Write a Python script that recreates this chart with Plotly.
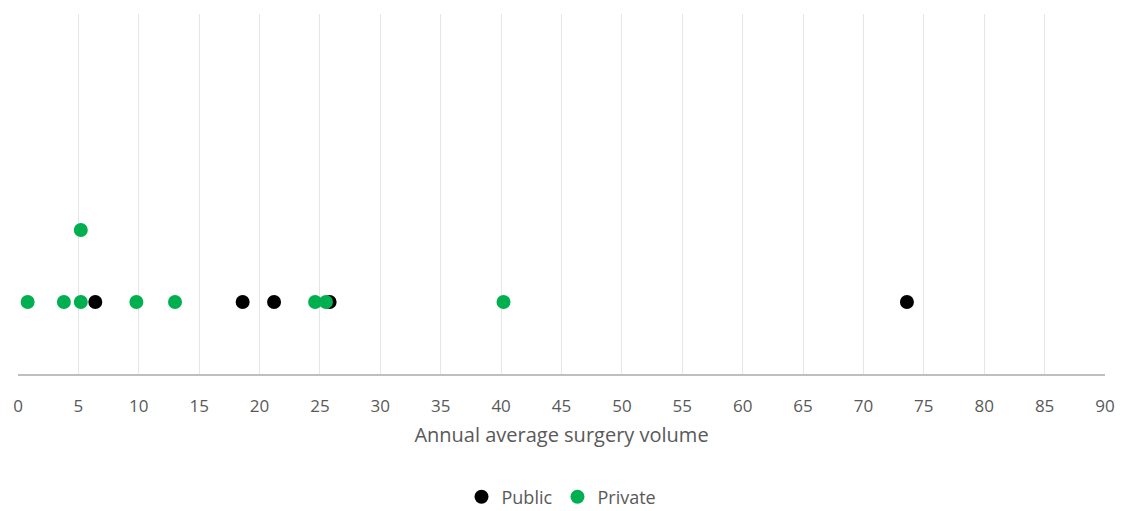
import plotly.graph_objects as go

public_x = [6.4, 18.6, 21.2, 25.8, 73.6]
public_y = [1, 1, 1, 1, 1]
private_x = [0.8, 3.8, 5.2, 5.2, 9.8, 13.0, 24.6, 25.5, 40.2]
private_y = [1, 1, 1, 2, 1, 1, 1, 1, 1]
x_ticks = list(range(0, 95, 5))

font = "Open Sans"
fig = go.Figure()
fig.add_trace(go.Scatter(x=public_x, y=public_y, mode="markers", name="Public",
                         marker=dict(color="#000000", size=14)))
fig.add_trace(go.Scatter(x=private_x, y=private_y, mode="markers", name="Private",
                         marker=dict(color="#00b050", size=14)))

# page body has an 8px margin, so the figure is sized to the visible area
fig.update_layout(
    width=1118, height=503,
    margin=dict(l=10, r=21, t=6, b=137, autoexpand=False),
    plot_bgcolor="white", paper_bgcolor="white",
    font=dict(family=font, size=15, color="#595959"),
    showlegend=True,
    legend=dict(orientation="h", x=0.5, xanchor="center", y=-0.342, yanchor="middle",
                font=dict(size=18, color="#595959"), itemwidth=30, tracegroupgap=0),
    xaxis=dict(range=[0, 90], tickvals=x_ticks, ticktext=[str(v) for v in x_ticks],
               automargin=False,
               showgrid=True, gridcolor="#e6e6e6", gridwidth=1,
               showline=True, linecolor="#bfbfbf", linewidth=1.5,
               zeroline=False, ticks="", ticklen=0, ticklabelstandoff=16,
               tickfont=dict(size=17, color="#595959"),
               title=dict(text="Annual average surgery volume", standoff=12,
                          font=dict(size=20, color="#595959"))),
    yaxis=dict(range=[0, 5], showgrid=False, showticklabels=False, zeroline=False,
               showline=False, ticks="", automargin=False),
)
fig.write_html("out.html")
